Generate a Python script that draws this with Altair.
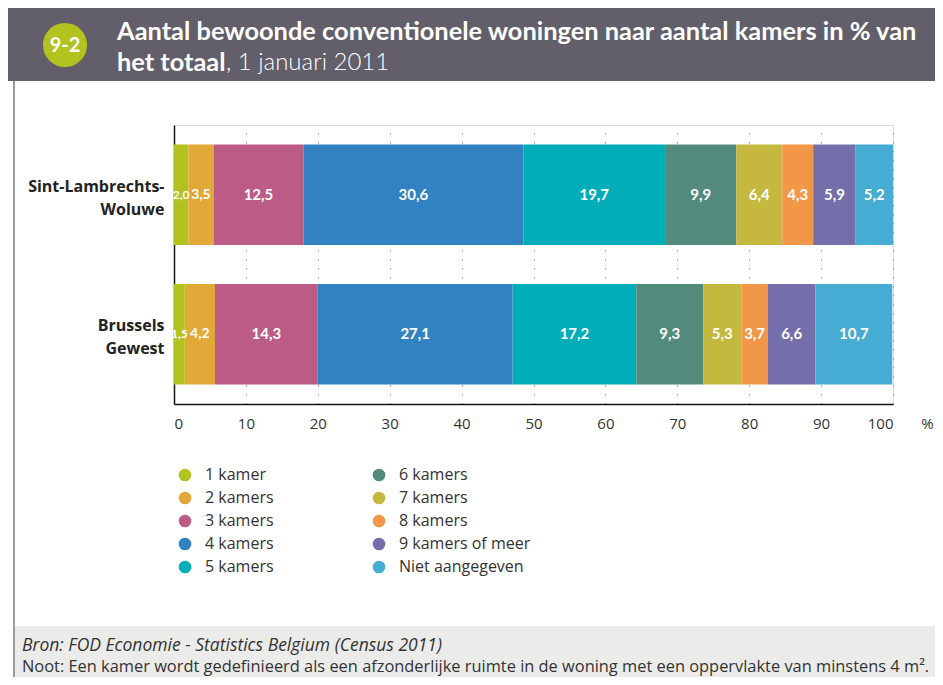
import altair as alt
import pandas as pd

# ---------------- data ----------------
regions = ["Sint-Lambrechts-Woluwe", "Brussels Gewest"]
region_lines = {"Sint-Lambrechts-Woluwe": ["Sint-Lambrechts-", "Woluwe"],
                "Brussels Gewest": ["Brussels", "Gewest"]}
categories = ["1 kamer", "2 kamers", "3 kamers", "4 kamers", "5 kamers",
              "6 kamers", "7 kamers", "8 kamers", "9 kamers of meer", "Niet aangegeven"]
colors = ["#b2c21e", "#e2a838", "#bd5b87", "#3282c1", "#00adb9",
          "#528a7c", "#c4b93e", "#f29648", "#746fab", "#47acd3"]
slw_values = [2.0, 3.5, 12.5, 30.6, 19.7, 9.9, 6.4, 4.3, 5.9, 5.2]
bru_values = [1.5, 4.2, 14.3, 27.1, 17.2, 9.3, 5.3, 3.7, 6.6, 10.7]
x_ticks = [0, 10, 20, 30, 40, 50, 60, 70, 80, 90, 100]

title_line1 = "Aantal bewoonde conventionele woningen naar aantal kamers in % van"
title_bold2 = "het totaal"
title_rest2 = ", 1 januari 2011"
badge = "9-2"
source = "Bron: FOD Economie - Statistics Belgium (Census 2011)"
note = "Noot: Een kamer wordt gedefinieerd als een afzonderlijke ruimte in de woning met een oppervlakte van minstens 4 m²."

rows = []
for reg, vals in zip(regions, [slw_values, bru_values]):
    for i, (c, v) in enumerate(zip(categories, vals)):
        rows.append({"region": reg, "cat": c, "idx": i, "value": v,
                     "label": f"{v:.1f}".replace(".", ",")})
df = pd.DataFrame(rows)

NARROW = "Lato, Roboto, sans-serif"
SANS = "Open Sans, Liberation Sans, sans-serif"

W, H = 719, 279
PL, PT = 166, 117
TOTW, TOTH = 927, 669


def px(x):
    return x - 8 - PL


def py(y):
    return y - 8 - PT


label_expr = " : ".join(
    [f"datum.value == '{k}' ? {v}" for k, v in region_lines.items()]) + " : datum.value"

base = alt.Chart(df).transform_stack(
    stack="value", as_=["x0", "x1"], groupby=["region"],
    sort=[alt.SortField("idx", order="ascending")]
).transform_calculate(
    mid="(datum.x0 + datum.x1) / 2",
    fs="datum.idx == 0 ? 12 : (datum.idx == 1 ? 14 : 15)",
)

y_enc = alt.Y("region:N", sort=regions, title=None,
              scale=alt.Scale(paddingInner=0.28, paddingOuter=0.14),
              axis=alt.Axis(labelExpr=label_expr, labelFont=SANS, labelFontWeight="bold",
                            labelFontSize=16, labelColor="#222222", labelLineHeight=23,
                            labelPadding=10, labelOffset=-8, ticks=False,
                            domainColor="#111111", domainWidth=1.5, grid=False))

bars = base.mark_bar(stroke=None).encode(
    x=alt.X("x0:Q", scale=alt.Scale(domain=[0, 100], nice=False, zero=True),
            axis=alt.Axis(values=x_ticks, labelFont=SANS, labelFontSize=15,
                          labelColor="#333333", labelPadding=12, ticks=False,
                          domainColor="#111111", domainWidth=1.5,
                          grid=True, gridDash=[1.5, 7.5], gridColor="#999999",
                          gridWidth=1, title="%", titleFont=SANS, titleFontSize=15,
                          titleFontWeight="normal", titleColor="#333333",
                          titleX=753, titleY=19, titleBaseline="middle",
                          titleAlign="center")),
    x2="x1:Q",
    y=y_enc,
    color=alt.Color("cat:N", scale=alt.Scale(domain=categories, range=colors),
                    legend=alt.Legend(title=None, orient="none", legendX=3, legendY=342,
                                      columns=2, symbolType="circle", symbolSize=160,
                                      symbolStrokeWidth=0, labelFont=SANS,
                                      labelFontSize=16, labelColor="#333333",
                                      labelOffset=12, rowPadding=7, columnPadding=97,
                                      padding=0)),
    order=alt.Order("idx:Q"),
)

texts = base.mark_text(font=NARROW, fontWeight="bold", color="white",
                       baseline="middle").encode(
    x=alt.X("mid:Q"), y=alt.Y("region:N", sort=regions), text="label:N",
    size=alt.Size("fs:Q", scale=None, legend=None))

one = pd.DataFrame({"k": [0]})
deco = alt.Chart(one)

header = deco.mark_rect(color="#625f6b").encode(
    x=alt.value(px(8)), x2=alt.value(px(960)), y=alt.value(py(8)), y2=alt.value(py(81)))
footer = deco.mark_rect(color="#ebecea").encode(
    x=alt.value(px(15)), x2=alt.value(px(960)),
    y=alt.value(py(626)), y2=alt.value(py(700)))
border = deco.mark_rect(color="#9a9aa0").encode(
    x=alt.value(px(13)), x2=alt.value(px(15)),
    y=alt.value(py(81)), y2=alt.value(py(700)))
circle = deco.mark_point(shape="circle", filled=True, color="#b2c21e", opacity=1,
                         size=1950).encode(
    x=alt.value(px(65)), y=alt.value(py(45)))
badge_t = deco.mark_text(font=NARROW, fontWeight="bold", fontSize=20, color="white",
                         baseline="middle", align="center").encode(
    x=alt.value(px(65)), y=alt.value(py(46)), text=alt.value(badge))
t1 = deco.mark_text(font=NARROW, fontWeight="bold", fontSize=25.4, color="white",
                    baseline="middle", align="left").encode(
    x=alt.value(px(117)), y=alt.value(py(32)), text=alt.value(title_line1))
t2 = deco.mark_text(font=NARROW, fontWeight="bold", fontSize=25.4, color="white",
                    baseline="middle", align="left").encode(
    x=alt.value(px(117)), y=alt.value(py(63)), text=alt.value(title_bold2))
t3 = deco.mark_text(font=NARROW, fontWeight=300, fontSize=24, color="white",
                    baseline="middle", align="left").encode(
    x=alt.value(px(226)), y=alt.value(py(63)), text=alt.value(title_rest2))
src = deco.mark_text(font=SANS, fontStyle="italic", fontSize=17.5, color="#333333",
                     baseline="middle", align="left").encode(
    x=alt.value(px(22)), y=alt.value(py(646)), text=alt.value(source))
nt = deco.mark_text(font=SANS, fontSize=16.4, color="#333333",
                    baseline="middle", align="left").encode(
    x=alt.value(px(22)), y=alt.value(py(667)), text=alt.value(note))

chart = alt.layer(header, footer, border, circle, badge_t, t1, t2, t3, src, nt,
                  bars, texts).properties(
    width=W, height=H,
    autosize=alt.AutoSizeParams(type="none"),
    padding={"left": PL, "top": PT, "right": TOTW - PL - W, "bottom": TOTH - PT - H},
).configure_view(stroke=None).configure(background="white")

chart.save("out.html", embed_options={"renderer": "svg", "actions": False})
